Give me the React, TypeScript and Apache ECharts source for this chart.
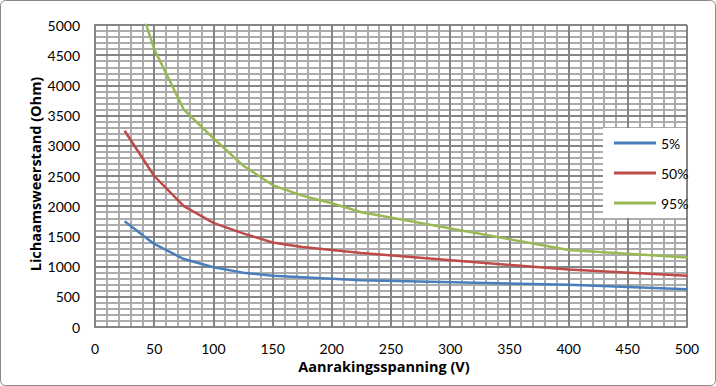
import React, { useEffect, useRef } from "react";
import * as echarts from "echarts";

const voltages = [25, 50, 75, 100, 125, 150, 175, 200, 225, 400, 500];
const p5 = [1750, 1375, 1125, 990, 900, 850, 825, 800, 775, 700, 625];
const p50 = [3250, 2500, 2000, 1725, 1550, 1400, 1325, 1275, 1225, 950, 850];
const p95 = [6100, 4600, 3600, 3125, 2675, 2350, 2175, 2050, 1900, 1275, 1150];
const seriesNames = ["5%", "50%", "95%"];
const colors = ["#4a7ebb", "#be4b48", "#98b954"];
const xTitle = "Aanrakingsspanning (V)";
const yTitle = "Lichaamsweerstand (Ohm)";

const FONT = "Lato";
const TITLE_FONT = "Open Sans";

export default function App() {
  const ref = useRef<HTMLDivElement>(null);
  useEffect(() => {
    if (!ref.current) return;
    const chart = echarts.init(ref.current, null, { renderer: "svg" });
    const minorColor = "#acacac";
    const majorColor = "#858585";
    const values = [p5, p50, p95];
    chart.setOption({
      animation: false,
      backgroundColor: "#ffffff",
      textStyle: { fontFamily: FONT },
      grid: { left: 95, right: 29, top: 25, bottom: 59, containLabel: false },
      xAxis: [
        {
          type: "value",
          position: "top",
          min: 0,
          max: 500,
          interval: 10,
          z: 0,
          axisLine: { show: false },
          axisTick: { show: false },
          axisLabel: { show: false },
          splitLine: { show: true, lineStyle: { color: minorColor, width: 2 } },
        },
        {
          type: "value",
          position: "bottom",
          min: 0,
          max: 500,
          interval: 50,
          z: 1,
          axisLine: { show: true, lineStyle: { color: majorColor, width: 2 } },
          axisTick: { show: false },
          axisLabel: {
            color: "#000",
            fontSize: 14,
            fontFamily: FONT,
            margin: 14,
            formatter: (v: number) => String(v),
          },
          splitLine: { show: true, lineStyle: { color: majorColor, width: 2 } },
        },
      ],
      yAxis: [
        {
          type: "value",
          position: "right",
          min: 0,
          max: 5000,
          interval: 100,
          z: 0,
          axisLine: { show: false },
          axisTick: { show: false },
          axisLabel: { show: false },
          splitLine: { show: true, lineStyle: { color: minorColor, width: 2 } },
        },
        {
          type: "value",
          position: "left",
          min: 0,
          max: 5000,
          interval: 500,
          z: 1,
          axisLine: { show: true, lineStyle: { color: majorColor, width: 2 } },
          axisTick: { show: false },
          axisLabel: {
            color: "#000",
            fontSize: 14,
            fontFamily: FONT,
            margin: 15,
            formatter: (v: number) => String(v),
          },
          splitLine: { show: true, lineStyle: { color: majorColor, width: 2 } },
        },
      ],
      legend: {
        orient: "vertical",
        left: 609,
        top: 131,
        icon: "rect",
        itemWidth: 42,
        itemHeight: 3,
        itemGap: 16,
        itemStyle: { borderWidth: 0 },
        padding: 5,
        z: 10,
        textStyle: { color: "#000", fontSize: 14, fontFamily: FONT, lineHeight: 14 },
        data: seriesNames,
      },
      graphic: [
        {
          type: "rect",
          z: 5,
          shape: { x: 603, y: 128, width: 83, height: 90 },
          style: { fill: "#ffffff" },
        },
        {
          type: "rect",
          z: 100,
          silent: true,
          shape: { x: 0.5, y: 0.5, width: 715, height: 385, r: 5 },
          style: { fill: "none", stroke: "#8a8a8a", lineWidth: 1 },
        },
        {
          type: "text",
          x: 384,
          y: 366,
          z: 10,
          style: {
            text: xTitle,
            fontFamily: TITLE_FONT,
            fontWeight: "bold",
            fontSize: 14.5,
            fill: "#000",
            align: "center",
            verticalAlign: "middle",
          },
        },
        {
          type: "text",
          x: 35,
          y: 174,
          rotation: Math.PI / 2,
          z: 10,
          style: {
            text: yTitle,
            fontFamily: TITLE_FONT,
            fontWeight: "bold",
            fontSize: 14.5,
            fill: "#000",
            align: "center",
            verticalAlign: "middle",
          },
        },
      ],
      series: seriesNames.map((name, i) => ({
        name,
        type: "line",
        xAxisIndex: 1,
        yAxisIndex: 1,
        symbol: "none",
        clip: true,
        z: 3,
        itemStyle: { color: colors[i] },
        lineStyle: { color: colors[i], width: 2.5 },
        data: voltages.map((v, j) => [v, values[i][j]]),
      })),
    });
    return () => chart.dispose();
  }, []);
  return (
    <div
      ref={ref}
      style={{ position: "fixed", left: 0, top: 0, width: 716, height: 386 }}
    />
  );
}
